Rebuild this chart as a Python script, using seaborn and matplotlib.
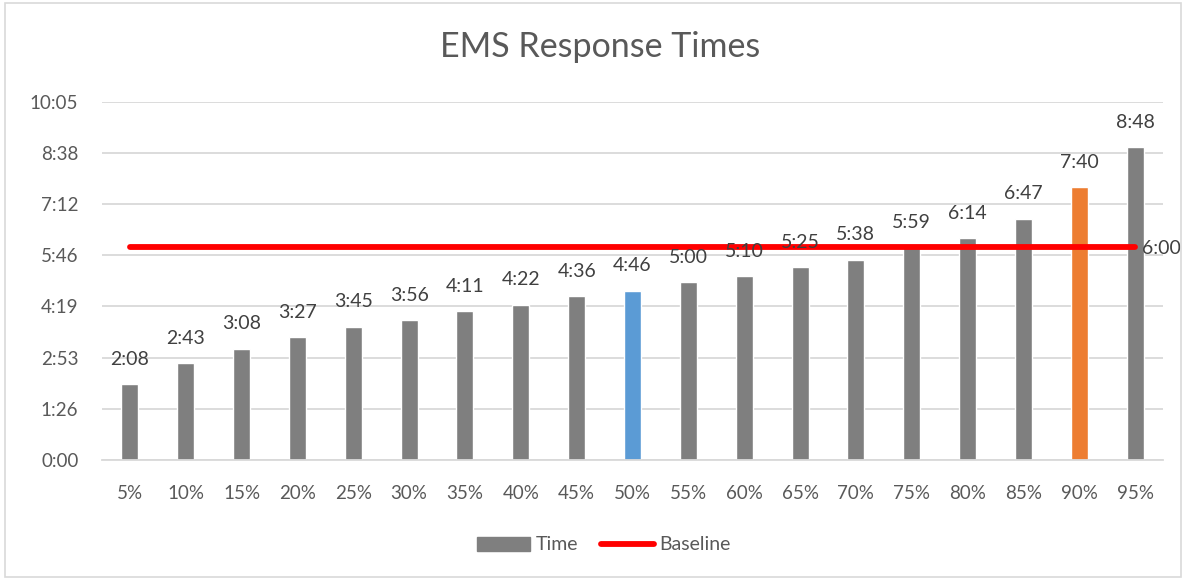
import numpy as np
import pandas as pd
import matplotlib
matplotlib.use("Agg")
import matplotlib.pyplot as plt
import matplotlib.ticker as mticker
from matplotlib.patches import Patch, Rectangle
from matplotlib.lines import Line2D
import seaborn as sns

# percentiles and response times (seconds)
percentiles = ["5%", "10%", "15%", "20%", "25%", "30%", "35%", "40%", "45%", "50%",
               "55%", "60%", "65%", "70%", "75%", "80%", "85%", "90%", "95%"]
times = [128, 163, 188, 207, 225, 236, 251, 262, 276, 286,
         300, 310, 325, 338, 359, 374, 407, 460, 528]
baseline = [360] * len(percentiles)
highlight = {"50%": "#5b9bd5", "90%": "#ed7d31"}

def mmss(v, pos=None):
    s = int(round(v))
    return f"{s // 60}:{s % 60:02d}"

df = pd.DataFrame({"pct": percentiles, "time": times, "base": baseline})
palette = {p: highlight.get(p, "#7f7f7f") for p in percentiles}

sns.set_style("white")
plt.rcParams["font.family"] = ["Lato", "DejaVu Sans"]
txt = "#595959"

fig = plt.figure(figsize=(11.86, 5.8), dpi=100)
ax = fig.add_axes([102 / 1186, 1 - 460 / 580, (1163 - 102) / 1186, (460 - 101.6) / 580])

sns.barplot(data=df, x="pct", y="time", hue="pct", palette=palette, legend=False,
            width=0.305, saturation=1, ax=ax, zorder=2)
ax.plot(df["pct"], df["base"], color="#ff0000", lw=4.2, solid_capstyle="round", zorder=3)

for i, t in enumerate(times):
    ax.annotate(mmss(t), (i, t), xytext=(0, 18), textcoords="offset points",
                ha="center", va="center", fontsize=14, color="#404040")
ax.annotate(mmss(baseline[-1]), (len(percentiles) - 1, baseline[-1]), xytext=(5, -1),
            textcoords="offset points", ha="left", va="center", fontsize=14, color="#404040")

ax.set_xlim(-0.5, len(percentiles) - 0.5)
ax.set_ylim(0, 604.8)
ax.yaxis.set_major_locator(mticker.MultipleLocator(86.4))
ax.yaxis.set_major_formatter(mticker.FuncFormatter(mmss))
ax.grid(axis="y", color="#d9d9d9", lw=1.3, zorder=0)
ax.set_axisbelow(True)
for s in ["top", "right", "left"]:
    ax.spines[s].set_visible(False)
ax.spines["bottom"].set_color("#d9d9d9")
ax.spines["bottom"].set_linewidth(1.3)
ax.tick_params(axis="x", length=0, pad=18, labelsize=13.5, labelcolor=txt)
ax.tick_params(axis="y", length=0, pad=17, labelsize=13.5, labelcolor=txt)
ax.set_xlabel("")
ax.set_ylabel("")

fig.text(600 / 1186, 1 - 47 / 580, "EMS Response Times", ha="center", va="center",
         fontsize=24.5, color=txt)

handles = [Patch(color="#7f7f7f", label="Time"),
           Line2D([], [], color="#ff0000", lw=4.2, solid_capstyle="round", label="Baseline")]
fig.legend(handles=handles, loc="center", bbox_to_anchor=(604 / 1186, 1 - 545 / 580),
           ncol=2, frameon=False, fontsize=14, labelcolor=txt, handlelength=2.7,
           handleheight=0.75, handletextpad=0.3, columnspacing=1.2)

fig.add_artist(Rectangle((5 / 1186, 3 / 580), 1176 / 1186, 574 / 580, transform=fig.transFigure,
                         fill=False, edgecolor="#d9d9d9", lw=1.2))

fig.savefig("out.png", dpi=100, facecolor="white")
